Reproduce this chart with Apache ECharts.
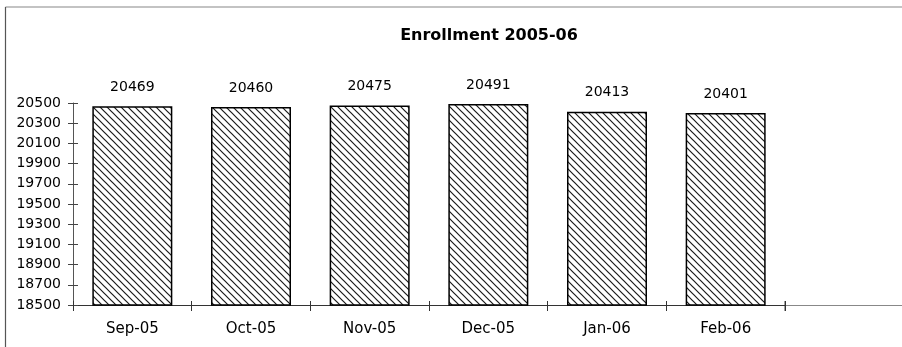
<!DOCTYPE html>
<html>
<head>
<meta charset="utf-8">
<script src="https://cdn.jsdelivr.net/npm/echarts@6/dist/echarts.min.js"></script>
<style>
html,body{margin:0;padding:0;background:#fff;}
#chart{width:902px;height:347px;}
</style>
</head>
<body>
<div id="chart"></div>
<script>
const categories = ['Sep-05', 'Oct-05', 'Nov-05', 'Dec-05', 'Jan-06', 'Feb-06'];
const enrollment = [20469, 20460, 20475, 20491, 20413, 20401];
const yMin = 18500, yMax = 20500, yStep = 200;
const titleText = 'Enrollment 2005-06';

function hatch() {
  const s = 7;
  const c = document.createElement('canvas');
  c.width = s; c.height = s;
  const g = c.getContext('2d');
  g.fillStyle = '#fff';
  g.fillRect(0, 0, s, s);
  g.strokeStyle = '#1a1a1a';
  g.lineWidth = 1.2;
  g.beginPath();
  g.moveTo(-1, -1); g.lineTo(s + 1, s + 1);
  g.moveTo(-1, s - 1); g.lineTo(1, s + 1);
  g.moveTo(s - 1, -1); g.lineTo(s + 1, 1);
  g.stroke();
  return c;
}

const font = 'DejaVu Sans';
const chart = echarts.init(document.getElementById('chart'), null, {renderer: 'canvas'});
chart.setOption({
  animation: false,
  backgroundColor: '#fff',
  title: {
    text: titleText, left: 484, top: 23, textAlign: 'center',
    textStyle: {fontFamily: font, fontSize: 16, fontWeight: 'bold', color: '#000'}
  },
  grid: {left: 73, right: 117, top: 103, bottom: 42, containLabel: false},
  xAxis: [{
    type: 'category', data: categories, position: 'bottom',
    axisLine: {lineStyle: {color: '#333', width: 1}},
    axisTick: {show: true, length: 6, lineStyle: {color: '#333'}},
    axisLabel: {margin: 17, fontFamily: font, fontSize: 15, color: '#000'}
  }, {
    type: 'category', data: categories, position: 'bottom',
    axisLine: {show: false},
    axisTick: {show: true, inside: true, length: 4, lineStyle: {color: '#333'}},
    axisLabel: {show: false}
  }],
  yAxis: [{
    type: 'value', min: yMin, max: yMax, interval: yStep, position: 'left',
    splitLine: {show: false},
    axisLine: {show: true, lineStyle: {color: '#555', width: 1}},
    axisTick: {show: true, length: 5, lineStyle: {color: '#444'}},
    axisLabel: {margin: 12, fontFamily: font, fontSize: 14, color: '#000', formatter: v => String(v)}
  }, {
    type: 'value', min: yMin, max: yMax, interval: yStep, position: 'left', offset: 0,
    splitLine: {show: false},
    axisLine: {show: false},
    axisTick: {show: true, inside: true, length: 5, lineStyle: {color: '#444'}},
    axisLabel: {show: false}
  }],
  series: [{
    type: 'bar', data: enrollment, xAxisIndex: 0, yAxisIndex: 0,
    barWidth: 80,
    itemStyle: {color: {image: hatch(), repeat: 'repeat'}, borderColor: '#000', borderWidth: 1.5},
    label: {show: true, position: 'top', distance: 12, fontFamily: font, fontSize: 14, color: '#000'}
  }],
  graphic: [
    {type: 'line', shape: {x1: 5.5, y1: 7, x2: 902, y2: 7}, style: {stroke: '#888', lineWidth: 1.2}},
    {type: 'line', shape: {x1: 5.5, y1: 7, x2: 5.5, y2: 347}, style: {stroke: '#555', lineWidth: 1.2}},
    {type: 'line', shape: {x1: 785, y1: 305.5, x2: 902, y2: 305.5}, style: {stroke: '#888', lineWidth: 1}},
    {type: 'line', shape: {x1: 785, y1: 301, x2: 785, y2: 311}, style: {stroke: '#444', lineWidth: 1}}
  ]
});
</script>
</body>
</html>
